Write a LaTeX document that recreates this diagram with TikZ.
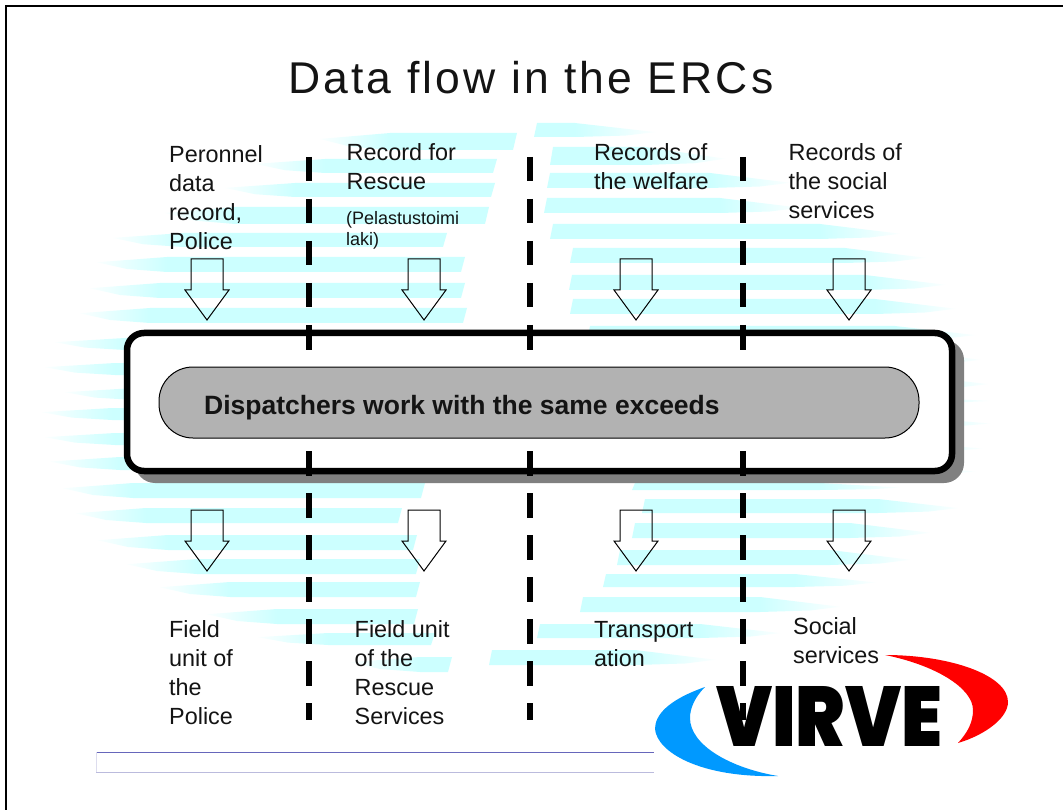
\documentclass[tikz,border=0pt]{standalone}
\usepackage{fontspec}
\usepackage{graphicx}
\setmainfont{Liberation Sans}
\newfontfamily\titlefont{Liberation Sans}[LetterSpace=7]
\newfontfamily\logofont{Poppins}[UprightFont=* Black]
\definecolor{stripe}{HTML}{CCFFFF}
\definecolor{pillgray}{HTML}{B2B2B2}
\definecolor{shadowgray}{HTML}{808080}
\definecolor{logoblue}{HTML}{0099FF}
\definecolor{logored}{HTML}{FF0000}
\definecolor{footdark}{HTML}{6666BB}
\definecolor{footlight}{HTML}{BBBBDD}
\tikzset{
  lbl/.style={anchor=north west,inner sep=0pt,align=left,font=\fontsize{23.4}{29.2}\selectfont,text=black!92},
  smalllbl/.style={anchor=north west,inner sep=0pt,align=left,font=\fontsize{18}{21}\selectfont,text=black!92},
  flowarrow/.style={draw=black,line width=1pt,line join=miter},
  divider/.style={line width=6.5pt,black}
}
% stripe: ytop ybot xleft xright; a soft taper at the outer end
\newcommand{\stL}[4]{%
  \shade[left color=stripe!8,right color=stripe] (#3,#1+0.35*#2-0.35*#1) -- (#3+70,#1) -- (#3+70,#2) -- (#3+30,#1+0.8*#2-0.8*#1) -- cycle;
  \fill[stripe] (#3+70,#1) -- (#4,#1) -- (#4-4,#2) -- (#3+70,#2) -- cycle;}
\newcommand{\stR}[4]{%
  \shade[right color=stripe!8,left color=stripe] (#4,#1+0.65*#2-0.65*#1) -- (#4-80,#1) -- (#4-80,#2) -- (#4-30,#1+0.9*#2-0.9*#1) -- cycle;
  \fill[stripe] (#3,#1) -- (#4-80,#1) -- (#4-80,#2) -- (#3-3,#2) -- cycle;}
\newcommand{\flowdown}[2]{% centre x, top y
  \draw[flowarrow,fill=none] (#1-16,#2) -- (#1+16,#2) -- (#1+16,#2+31) -- (#1+22,#2+31)
    -- (#1,#2+61) -- (#1-22,#2+31) -- (#1-16,#2+31) -- cycle;}
\newcommand{\dashcol}[1]{%
  \foreach \yy in {157,199,241,283,325,451,493,535,577,619,661} \draw[divider] (#1,\yy) -- (#1,\yy+24.5);
  \draw[divider] (#1,703) -- (#1,720);}
\begin{document}
\begin{tikzpicture}[x=1pt,y=-1pt]
\useasboundingbox (0,0) rectangle (1063,810);
\fill[white] (0,0) rectangle (1063,810);
% background stripes, left half
\stL{133}{150}{320}{517}\stL{159}{173}{255}{497}\stL{183}{197}{225}{495}\stL{207}{224}{165}{489}
\stL{233}{247}{113}{447}\stL{257}{272}{97}{465}\stL{283}{298}{90}{465}\stL{308}{323}{80}{467}
\stL{338}{350}{55}{300}\stL{363}{375}{45}{300}\stL{388}{400}{65}{300}\stL{408}{420}{42}{300}
\stL{433}{445}{45}{300}\stL{457}{470}{50}{300}\stL{483}{498}{63}{425}\stL{508}{523}{76}{402}
\stL{535}{550}{98}{417}\stL{559}{574}{127}{420}\stL{582}{597}{160}{420}\stL{609}{624}{207}{418}
\stL{633}{645}{258}{435}\stL{657}{672}{350}{452}
% background stripes, right half
\stR{123}{137}{537}{655}\stR{147}{165}{553}{725}\stR{173}{188}{550}{790}\stR{198}{213}{547}{800}
\stR{224}{239}{553}{900}\stR{248}{263}{573}{925}\stR{275}{290}{572}{945}\stR{299}{314}{573}{955}
\stR{326}{340}{590}{975}\stR{350}{365}{700}{980}\stR{375}{389}{700}{988}\stR{397}{403}{700}{990}
\stR{417}{427}{700}{990}\stR{442}{452}{700}{982}\stR{465}{475}{700}{975}\stR{483}{490}{635}{900}
\stR{499}{513}{645}{958}\stR{523}{538}{635}{930}\stR{550}{565}{620}{910}\stR{574}{587}{606}{875}
\stR{597}{612}{583}{840}\stR{624}{638}{540}{780}\stR{650}{665}{492}{715}
% frame and footer
\draw[line width=2pt,black] (6,810) -- (6,6) -- (1063,6);
\draw[line width=1pt,color=footdark] (96,752) -- (654,752);
\draw[line width=1pt,color=footlight] (96,772) -- (654,772);
\draw[line width=0.5pt,color=footlight!50] (96,752) -- (96,772);
% title
\node[inner sep=0pt,anchor=base,font=\titlefont\fontsize{44.5}{50}\selectfont,text=black!92] (title) at (531,94) {Data flow in the ERCs};
% central panel
\fill[shadowgray,rounded corners=20pt] (135,340) rectangle (964,483);
\node[draw=black,fill=white,line width=6.5pt,rounded corners=17pt,minimum width=825pt,minimum height=138pt,inner sep=0pt,outer sep=0pt,anchor=north west] (panel) at (127,333) {};
% dashes
\dashcol{309}\dashcol{530}\dashcol{743}
% pill
\node[draw=black,fill=pillgray,line width=1pt,rounded corners=34pt,minimum width=760pt,minimum height=71pt,inner sep=0pt,outer sep=0pt,anchor=north west] (pill) at (159,367) {};
\node[inner sep=0pt,anchor=base west,font=\bfseries\fontsize{26.5}{30}\selectfont,text=black!92] (work) at (204,414) {Dispatchers work with the same exceeds};
% arrows
\flowdown{207}{259}\flowdown{424}{259}\flowdown{636}{259}\flowdown{849}{259}
\flowdown{207}{510}\flowdown{424}{510}\flowdown{636}{510}\flowdown{849}{510}
% labels (first baseline = y + 20)
\node[lbl] (t1) at (169,142) {\rule{0pt}{20pt}Peronnel\\data\\record,\\Police};
\node[lbl] (t2) at (346.5,140) {\rule{0pt}{20pt}Record for\\Rescue};
\node[smalllbl] (t2b) at (346,208) {\rule{0pt}{16pt}(Pelastustoimi\\laki)};
\node[lbl] (t3) at (594,140) {\rule{0pt}{20pt}Records of\\the welfare};
\node[lbl] (t4) at (788.5,140) {\rule{0pt}{20pt}Records of\\the social\\services};
\node[lbl] (b1) at (169,617) {\rule{0pt}{20pt}Field\\unit of\\the\\Police};
\node[lbl] (b2) at (354.5,617) {\rule{0pt}{20pt}Field unit\\of the\\Rescue\\Services};
\node[lbl] (b3) at (594,617) {\rule{0pt}{20pt}Transport\\ation};
\node[lbl] (b4) at (793,614) {\rule{0pt}{20pt}Social\\services};
% logo
\fill[logoblue] (705,687) .. controls (668,700) and (655,715) .. (655,729)
  .. controls (657,752) and (700,778) .. (778,776)
  .. controls (730,768) and (690,745) .. (690,718)
  .. controls (690,708) and (695,697) .. (705,687) -- cycle;
\fill[logored] (885,655) .. controls (950,655) and (1008,675) .. (1008,702)
  .. controls (1008,718) and (985,735) .. (958,743)
  .. controls (968,732) and (973,722) .. (973,710)
  .. controls (973,688) and (935,665) .. (885,655) -- cycle;
\node[inner sep=0pt,anchor=south west] (logo) at (716,747) {\resizebox{226pt}{60pt}{\logofont VIRVE}};
\end{tikzpicture}
\end{document}
